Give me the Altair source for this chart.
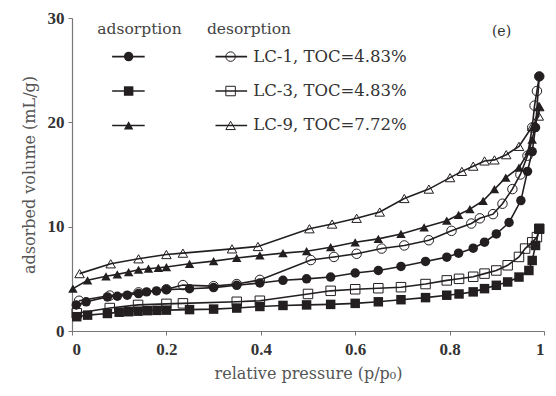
import altair as alt
import pandas as pd

# ---------------- data ----------------
samples = ["LC-1", "LC-3", "LC-9"]
labels = ["LC-1, TOC=4.83%", "LC-3, TOC=4.83%", "LC-9, TOC=7.72%"]

lc1_ads_x = [0.009, 0.03, 0.075, 0.096, 0.117, 0.141, 0.158, 0.179, 0.2, 0.249, 0.3, 0.349, 0.398, 0.447,
             0.497, 0.548, 0.6, 0.649, 0.697, 0.749, 0.794, 0.819, 0.85, 0.874, 0.899, 0.926, 0.951, 0.965,
             0.975, 0.982, 0.99]
lc1_ads_y = [2.5, 2.8, 3.27, 3.33, 3.43, 3.59, 3.75, 3.84, 3.97, 4.05, 4.16, 4.38, 4.6, 4.86,
             5.0, 5.17, 5.56, 5.8, 6.19, 6.67, 7.08, 7.46, 7.94, 8.51, 9.3, 10.4, 12.5, 15.3,
             17.2, 19.5, 24.4]
lc1_des_x = [0.99, 0.985, 0.98, 0.975, 0.965, 0.95, 0.933, 0.912, 0.892, 0.864, 0.846, 0.804, 0.756, 0.704,
             0.656, 0.603, 0.555, 0.506, 0.398, 0.349, 0.3, 0.235, 0.2, 0.141, 0.08, 0.015]
lc1_des_y = [24.4, 23.0, 21.6, 19.5, 16.8, 15.0, 13.6, 12.2, 11.2, 10.8, 10.3, 9.6, 8.7, 8.2,
             7.9, 7.4, 7.1, 6.8, 4.9, 4.5, 4.3, 4.4, 4.0, 3.7, 3.4, 2.9]

lc3_ads_x = [0.01, 0.033, 0.075, 0.1, 0.12, 0.14, 0.16, 0.18, 0.2, 0.249, 0.3, 0.349, 0.398, 0.447,
             0.497, 0.548, 0.6, 0.649, 0.697, 0.749, 0.794, 0.82, 0.85, 0.874, 0.899, 0.923, 0.947, 0.968,
             0.975, 0.982, 0.99]
lc3_ads_y = [1.37, 1.52, 1.68, 1.8, 1.85, 1.9, 1.95, 1.98, 2.0, 2.05, 2.1, 2.2, 2.35, 2.45,
             2.5, 2.55, 2.65, 2.8, 3.0, 3.2, 3.43, 3.55, 3.75, 4.06, 4.38, 4.7, 5.17, 5.8,
             6.76, 8.2, 9.8]
lc3_des_x = [0.99, 0.985, 0.975, 0.96, 0.947, 0.923, 0.899, 0.874, 0.85, 0.82, 0.794, 0.749, 0.697, 0.649,
             0.6, 0.548, 0.5, 0.398, 0.349, 0.235, 0.2, 0.14, 0.08, 0.01]
lc3_des_y = [9.8, 9.0, 8.5, 7.9, 7.1, 6.3, 5.8, 5.5, 5.2, 5.0, 4.85, 4.5, 4.2, 4.1,
             4.0, 3.85, 3.55, 2.9, 2.8, 2.65, 2.6, 2.5, 2.2, 1.7]

lc9_ads_x = [0.002, 0.033, 0.072, 0.096, 0.12, 0.141, 0.162, 0.183, 0.2, 0.249, 0.3, 0.349, 0.398, 0.447,
             0.497, 0.548, 0.6, 0.649, 0.697, 0.746, 0.794, 0.819, 0.843, 0.871, 0.895, 0.919, 0.947, 0.968,
             0.975, 0.982, 0.99]
lc9_ads_y = [4.06, 4.86, 5.24, 5.43, 5.65, 5.87, 5.97, 6.06, 6.13, 6.44, 6.7, 7.0, 7.24, 7.46,
             7.65, 8.03, 8.5, 8.83, 9.3, 9.94, 10.57, 11.14, 11.68, 12.48, 13.59, 14.7, 15.65, 17.24,
             18.35, 19.8, 21.5]
lc9_des_x = [0.99, 0.989, 0.975, 0.947, 0.92, 0.895, 0.874, 0.85, 0.826, 0.801, 0.756, 0.704, 0.652, 0.603,
             0.551, 0.503, 0.394, 0.339, 0.235, 0.2, 0.141, 0.082, 0.016]
lc9_des_y = [21.5, 20.6, 19.6, 17.7, 16.9, 16.4, 16.3, 15.8, 15.3, 14.7, 13.6, 12.7, 11.4, 10.8,
             10.25, 9.8, 8.1, 7.87, 7.46, 7.33, 6.92, 6.44, 5.5]

series = [
    ("LC-1", "ads", lc1_ads_x, lc1_ads_y), ("LC-1", "des", lc1_des_x, lc1_des_y),
    ("LC-3", "ads", lc3_ads_x, lc3_ads_y), ("LC-3", "des", lc3_des_x, lc3_des_y),
    ("LC-9", "ads", lc9_ads_x, lc9_ads_y), ("LC-9", "des", lc9_des_x, lc9_des_y),
]
rows = []
for s, k, xs, ys in series:
    for i, (xv, yv) in enumerate(zip(xs, ys)):
        rows.append({"sample": s, "kind": k, "key": s + k, "i": i, "x": xv, "y": yv})
df = pd.DataFrame(rows)

# legend layout (in data units of the plot)
leg_rows = [26.3, 23.0, 19.7]
leg = pd.DataFrame({"sample": samples, "label": labels, "ly": leg_rows})

INK = "#231f20"
FONT = "Liberation Serif"
WFONT = "DejaVu Serif"
MSIZE = 90
shape_scale = alt.Scale(domain=samples, range=["circle", "square", "triangle-up"])
X = alt.X("x:Q", scale=alt.Scale(domain=[0, 1], nice=False),
          axis=alt.Axis(values=[0, 0.2, 0.4, 0.6, 0.8, 1], format="~g",
                        title="relative pressure (p/p₀)"))
Y = alt.Y("y:Q", scale=alt.Scale(domain=[0, 30], nice=False),
          axis=alt.Axis(values=[0, 10, 20, 30], title="adsorbed volume (mL/g)"))

lines = alt.Chart(df).mark_line(color=INK, strokeWidth=1.6).encode(
    x=X, y=Y, detail="key:N", order="i:Q")
ads = alt.Chart(df[df.kind == "ads"]).mark_point(filled=True, color=INK, size=MSIZE, opacity=1).encode(
    x=X, y=Y, shape=alt.Shape("sample:N", scale=shape_scale, legend=None))
des = alt.Chart(df[df.kind == "des"]).mark_point(filled=False, color=INK, size=MSIZE, strokeWidth=1,
                                                  opacity=1).encode(
    x=X, y=Y, shape=alt.Shape("sample:N", scale=shape_scale, legend=None))

base = alt.Chart(leg)
lg_rule_a = base.mark_rule(color=INK, strokeWidth=1.6).encode(
    x=alt.datum(0.085), x2=alt.datum(0.154), y=alt.Y("ly:Q"))
lg_rule_d = base.mark_rule(color=INK, strokeWidth=1.6).encode(
    x=alt.datum(0.304), x2=alt.datum(0.371), y=alt.Y("ly:Q"))
lg_pt_a = base.mark_point(filled=True, color=INK, size=MSIZE, opacity=1).encode(
    x=alt.datum(0.12), y=alt.Y("ly:Q"), shape=alt.Shape("sample:N", scale=shape_scale, legend=None))
lg_pt_d = base.mark_point(filled=False, color=INK, size=MSIZE, strokeWidth=1, opacity=1).encode(
    x=alt.datum(0.336), y=alt.Y("ly:Q"), shape=alt.Shape("sample:N", scale=shape_scale, legend=None))
lg_txt = base.mark_text(align="left", baseline="middle", font=WFONT, fontSize=16.5, color="#333").encode(
    x=alt.datum(0.384), y=alt.Y("ly:Q"), text="label:N")

heads = pd.DataFrame({"hx": [0.143, 0.375], "hy": [28.9, 28.9], "t": ["adsorption", "desorption"]})
lg_head = alt.Chart(heads).mark_text(font=WFONT, fontSize=15.5, color="#444", baseline="middle").encode(
    x=alt.X("hx:Q"), y=alt.Y("hy:Q"), text="t:N")
tag = alt.Chart(pd.DataFrame({"tx": [0.91], "ty": [28.7], "t": ["(e)"]})).mark_text(
    font=WFONT, fontSize=14, color="#333", baseline="middle").encode(
    x=alt.X("tx:Q"), y=alt.Y("ty:Q"), text="t:N")

chart = alt.layer(lines, ads, des, lg_rule_a, lg_rule_d, lg_pt_a, lg_pt_d, lg_txt, lg_head, tag).properties(
    width=472, height=313,
    autosize=alt.AutoSizeParams(type="none"),
    padding={"left": 64, "top": 10, "right": 4, "bottom": 55},
).configure_view(stroke=None).configure_axis(
    grid=False, domainColor="#777", domainWidth=1.2, tickColor="#777", tickSize=4,
    labelFont=FONT, labelFontSize=17, labelFontWeight="bold", labelColor="#333",
    titleFont=WFONT, titleFontSize=16, titleFontWeight="normal", titleColor="#555",
).configure_axisX(labelPadding=6, titlePadding=8).configure_axisY(labelPadding=4, titlePadding=10)

chart.save("out.html", embed_options={"renderer": "svg", "actions": False})
